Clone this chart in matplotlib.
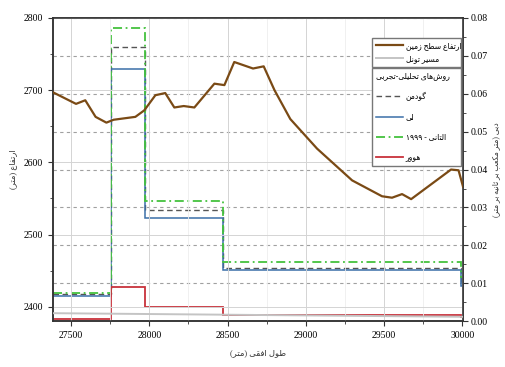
import re
import matplotlib
matplotlib.use("Agg")
import matplotlib.pyplot as plt
import matplotlib.lines as mlines
from matplotlib.ticker import MultipleLocator

plt.rcParams['font.family'] = ['Liberation Serif', 'DejaVu Sans']

# ground surface elevation (m)
ground_x = [27385, 27532, 27591, 27657, 27726, 27772, 27911, 27968, 28039, 28102,
            28160, 28220, 28288, 28416, 28480, 28543, 28663, 28731, 28800, 28901,
            29072, 29296, 29487, 29551, 29615, 29673, 29928, 29976, 30005]
ground_y = [2697, 2681, 2686, 2663, 2655, 2659, 2663, 2672, 2693, 2696,
            2676, 2678, 2676, 2709, 2707, 2739, 2730, 2733, 2700, 2660,
            2619, 2575, 2553, 2551, 2556, 2549, 2590, 2589, 2566]

# tunnel path (m)
tunnel_x = [27385, 30005]
tunnel_y = [2391, 2386]

# inflow by the analytical-empirical methods (right axis)
seg_edges = [27385, 27757, 27975, 28469, 29990, 30005]
goodman = [0.0072, 0.0724, 0.0294, 0.0140, 0.0102]
lei = [0.0067, 0.0665, 0.0271, 0.0134, 0.0094]
eltani = [0.0075, 0.0773, 0.0316, 0.0157, 0.0116]
heuer = [0.0006, 0.0090, 0.0037, 0.0017, 0.0012]

# --- tiny Persian shaper (presentation forms + visual order) ---
R = {'ا': (0xFE8D, 0xFE8E), 'آ': (0xFE81, 0xFE82), 'د': (0xFEA9, 0xFEAA),
     'ذ': (0xFEAB, 0xFEAC), 'ر': (0xFEAD, 0xFEAE), 'ز': (0xFEAF, 0xFEB0),
     'ژ': (0xFB8A, 0xFB8B), 'و': (0xFEED, 0xFEEE)}
D = {'ب': 0xFE8F, 'ت': 0xFE95, 'ث': 0xFE99, 'ج': 0xFE9D, 'ح': 0xFEA1,
     'خ': 0xFEA5, 'س': 0xFEB1, 'ش': 0xFEB5, 'ص': 0xFEB9, 'ض': 0xFEBD,
     'ط': 0xFEC1, 'ظ': 0xFEC5, 'ع': 0xFEC9, 'غ': 0xFECD, 'ف': 0xFED1,
     'ق': 0xFED5, 'ل': 0xFEDD, 'م': 0xFEE1, 'ن': 0xFEE5, 'ه': 0xFEE9,
     'پ': 0xFB56, 'چ': 0xFB7A, 'ک': 0xFB8E, 'گ': 0xFB92, 'ی': 0xFBFC}


def fa(s):
    out = []
    for i, c in enumerate(s):
        p = s[i - 1] if i > 0 else ''
        n = s[i + 1] if i + 1 < len(s) else ''
        jp = p in D
        if c in R:
            out.append(chr(R[c][1] if jp else R[c][0]))
        elif c in D:
            jn = n in D or n in R
            k = (3 if jn else 1) if jp else (2 if jn else 0)
            out.append(chr(D[c] + k))
        elif c != '\u200c':
            out.append(c)
    s = ''.join(out)
    toks = re.findall(r'[0-9۰-۹.]+|[^0-9۰-۹.]+', s)
    vis = ''
    for t in reversed(toks):
        vis += t if re.match(r'[0-9۰-۹]', t) else t[::-1]
    return vis.translate(str.maketrans('()', ')('))


fig = plt.figure(figsize=(5.05, 3.67), dpi=100)
ax = fig.add_axes([0.105, 0.125, 0.812, 0.826])
ax2 = ax.twinx()

ax.set_xlim(27385, 30005)
ax.set_ylim(2380, 2800)
ax2.set_ylim(0, 0.08)

ax.xaxis.set_major_locator(MultipleLocator(500))
ax.xaxis.set_minor_locator(MultipleLocator(250))
ax.yaxis.set_major_locator(MultipleLocator(100))
ax.yaxis.set_minor_locator(MultipleLocator(50))
ax2.yaxis.set_major_locator(MultipleLocator(0.01))
ax2.yaxis.set_minor_locator(MultipleLocator(0.005))
ax2.yaxis.set_major_formatter(plt.FormatStrFormatter('%.2f'))

ax.grid(True, which='major', axis='x', color='#d4d4d4', lw=0.7)
ax.grid(True, which='minor', axis='x', color='#eeeeee', lw=0.6)
ax.grid(True, which='major', axis='y', color='#d4d4d4', lw=0.7)
ax2.grid(True, which='major', axis='y', color='#a0a0a0', lw=0.8, ls=(0, (3, 3)))
ax2.set_axisbelow(True)

for a in (ax, ax2):
    a.tick_params(which='both', direction='out', labelsize=7, color='#333333')
    a.tick_params(which='major', length=3.5)
    a.tick_params(which='minor', length=2)
    for sp in a.spines.values():
        sp.set_color('#333333')
        sp.set_linewidth(1.1)
ax2.tick_params(axis='y', pad=2)

l1, = ax.plot(ground_x, ground_y, color='#7a4a15', lw=1.6, zorder=5)
l2, = ax.plot(tunnel_x, tunnel_y, color='#c4c4c4', lw=1.4, zorder=4)

ax2.stairs(goodman, seg_edges, baseline=None, color='#555555', lw=1.0, ls=(0, (4, 2.5)))
ax2.stairs(lei, seg_edges, baseline=None, color='#3b6fa8', lw=1.1)
ax2.stairs(eltani, seg_edges, baseline=None, color='#44c23e', lw=1.3, ls=(0, (5, 2, 1, 2)))
ax2.stairs(heuer, seg_edges, baseline=None, color='#c8323c', lw=1.3)

ax.set_zorder(ax2.get_zorder() + 1)
ax.patch.set_visible(False)

ax.set_xlabel(fa('طول افقی (متر)'), fontsize=6, labelpad=7, color='#333333')
ax.set_ylabel(fa('ارتفاع (متر)'), fontsize=6, labelpad=5, color='#333333')
ax2.set_ylabel(fa('دبی (متر مکعب بر ثانیه بر متر)'), fontsize=5.5, labelpad=3, color='#333333')

g1 = mlines.Line2D([], [], color='#555555', lw=1.0, ls=(0, (4, 2.5)))
g2 = mlines.Line2D([], [], color='#3b6fa8', lw=1.1)
g3 = mlines.Line2D([], [], color='#44c23e', lw=1.3, ls=(0, (5, 2, 1, 2)))
g4 = mlines.Line2D([], [], color='#c8323c', lw=1.3)

leg1 = ax.legend([l1, l2], [fa('ارتفاع سطح زمین'), fa('مسیر تونل')],
                 loc='upper left', bbox_to_anchor=(0.778, 0.5, 0.217, 0.434),
                 mode='expand', fontsize=5.5, handlelength=3.6, fancybox=False,
                 edgecolor='#777777', framealpha=1, borderpad=0.5,
                 labelspacing=0.7, borderaxespad=0, handletextpad=0.3)
leg1.set_zorder(10)
ax.add_artist(leg1)
leg2 = ax.legend([g1, g2, g3, g4],
                 [fa('گودمن'), fa('لی'), fa('التانی - ۱۹۹۹'), fa('هوور')],
                 title=fa('روش\u200cهای تحلیلی-تجربی'), title_fontsize=5.5,
                 loc='upper left', bbox_to_anchor=(0.778, 0.2, 0.217, 0.635),
                 mode='expand', fontsize=5.5, handlelength=3.6, fancybox=False,
                 edgecolor='#777777', framealpha=1, borderpad=0.5,
                 labelspacing=1.6, borderaxespad=0, handletextpad=0.3,
                 alignment='left')
leg2.set_zorder(10)

fig.savefig('out.png', dpi=100)
